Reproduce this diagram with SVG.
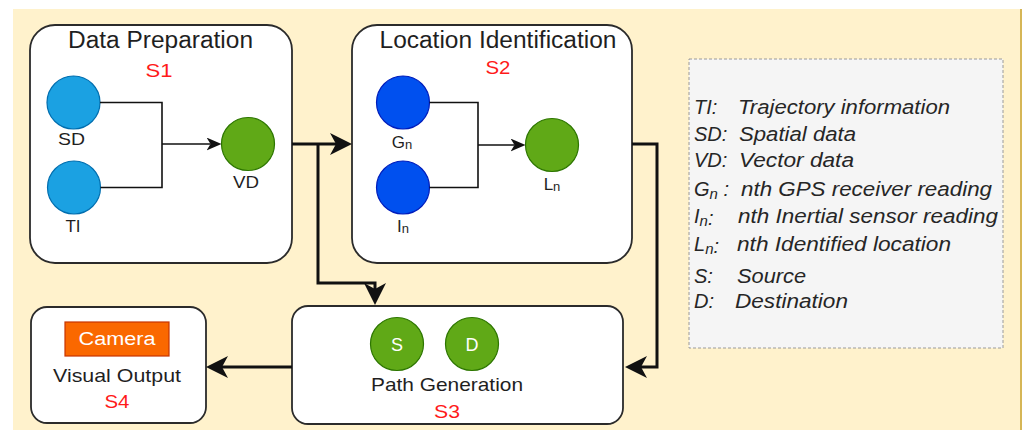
<svg xmlns="http://www.w3.org/2000/svg" width="1024" height="430" viewBox="0 0 1024 430">
<defs>
<style>
.box{fill:#ffffff;stroke:#2b2b2b;stroke-width:1.8}
.t{font-family:"Liberation Sans",Arial,sans-serif;fill:#1f1f1f}
.title{font-size:23px;text-anchor:middle}
.red{font-size:18px;fill:#ff1a1a;text-anchor:middle}
.lbl{font-size:17px;text-anchor:middle}
.cyan{fill:#1ba1e2;stroke:#006eaf;stroke-width:1.2}
.blue{fill:#0050ef;stroke:#001dbc;stroke-width:1.2}
.green{fill:#60a917;stroke:#2d7600;stroke-width:1.2}
.thin{fill:none;stroke:#111;stroke-width:1.6}
.thick{fill:none;stroke:#111;stroke-width:3}
.leg{font-size:20px;font-style:italic;fill:#262626}
</style>
<marker id="ahS" markerUnits="userSpaceOnUse" markerWidth="15" markerHeight="13" refX="4" refY="6.5" orient="auto" viewBox="0 0 15 13">
<path d="M0,0 L15,6.5 L0,13 L4,6.5 Z" fill="#111"/>
</marker>
<marker id="ahL" markerUnits="userSpaceOnUse" markerWidth="22" markerHeight="22" refX="6" refY="11" orient="auto" viewBox="0 0 22 22">
<path d="M0,0 L22,11 L0,22 L6,11 Z" fill="#111"/>
</marker>
</defs>
<rect x="0" y="0" width="1024" height="430" fill="#ffffff"/>
<rect x="13" y="9" width="1008" height="421" fill="#fff2cc"/>
<line x1="1021" y1="9" x2="1021" y2="430" stroke="#d6b656" stroke-width="2"/>

<g id="S1">
<rect class="box" x="30" y="25" width="262" height="238" rx="25"/>
<text class="t title" x="160.5" y="48" textLength="185" lengthAdjust="spacingAndGlyphs">Data Preparation</text>
<text class="t red" x="159" y="77" textLength="27" lengthAdjust="spacingAndGlyphs">S1</text>
</g>
<g id="SD"><circle class="cyan" cx="73.5" cy="102.5" r="26.5"/><text class="t lbl" x="71.5" y="145" textLength="27" lengthAdjust="spacingAndGlyphs">SD</text></g>
<g id="TI"><circle class="cyan" cx="74" cy="187.5" r="26.5"/><text class="t lbl" x="73" y="232">TI</text></g>
<g id="VD"><circle class="green" cx="248" cy="144" r="26.5"/><text class="t lbl" x="246" y="188" textLength="26" lengthAdjust="spacingAndGlyphs">VD</text></g>

<g id="S2">
<rect class="box" x="352" y="25" width="280" height="238" rx="25"/>
<text class="t title" x="498" y="48" textLength="237" lengthAdjust="spacingAndGlyphs">Location Identification</text>
<text class="t red" x="498" y="74" textLength="25" lengthAdjust="spacingAndGlyphs">S2</text>
</g>
<g id="Gn"><circle class="blue" cx="403" cy="102.5" r="26.5"/><text class="t lbl" x="402" y="148">G<tspan font-size="13" dy="1">n</tspan></text></g>
<g id="In"><circle class="blue" cx="403" cy="187.5" r="26.5"/><text class="t lbl" x="403" y="232">I<tspan font-size="13" dy="1">n</tspan></text></g>
<g id="Ln"><circle class="green" cx="552" cy="145" r="26.5"/><text class="t lbl" x="552" y="190">L<tspan font-size="13" dy="1">n</tspan></text></g>

<g id="S3">
<rect class="box" x="292" y="306" width="331" height="118" rx="16"/>
<text class="t lbl" x="447" y="391" font-size="19" textLength="152" lengthAdjust="spacingAndGlyphs" style="font-size:19px">Path Generation</text>
<text class="t red" x="447" y="418" textLength="26" lengthAdjust="spacingAndGlyphs">S3</text>
</g>
<g id="S"><circle class="green" cx="397" cy="344" r="26.5"/><text class="t lbl" x="397" y="351" style="fill:#ffffff;font-size:18px">S</text></g>
<g id="D"><circle class="green" cx="472" cy="344" r="26.5"/><text class="t lbl" x="472" y="351" style="fill:#ffffff;font-size:18px">D</text></g>

<g id="S4">
<rect class="box" x="31" y="307" width="175" height="116" rx="16"/>
<text class="t lbl" x="117" y="382" style="font-size:19px" textLength="128" lengthAdjust="spacingAndGlyphs">Visual Output</text>
<text class="t red" x="117" y="408" textLength="25" lengthAdjust="spacingAndGlyphs">S4</text>
</g>
<g id="Camera">
<rect x="65" y="322" width="104" height="34" fill="#fa6800" stroke="#c73500" stroke-width="1.2"/>
<text class="t lbl" x="117" y="345" style="fill:#ffffff;font-size:18px" textLength="77" lengthAdjust="spacingAndGlyphs">Camera</text>
</g>

<g id="legend">
<rect x="689" y="59" width="314" height="289" fill="#f5f5f5" stroke="#9a9a9a" stroke-width="1" stroke-dasharray="3,2"/>
<text class="t leg" x="694" y="114">TI:</text>
<text class="t leg" x="738" y="114" textLength="212" lengthAdjust="spacingAndGlyphs">Trajectory information</text>
<text class="t leg" x="694" y="141">SD:</text>
<text class="t leg" x="739" y="141" textLength="117" lengthAdjust="spacingAndGlyphs">Spatial data</text>
<text class="t leg" x="694" y="167">VD:</text>
<text class="t leg" x="739" y="167" textLength="115" lengthAdjust="spacingAndGlyphs">Vector data</text>
<text class="t leg" x="694" y="196">G<tspan font-size="15" dy="3">n</tspan><tspan dy="-3"> :</tspan></text>
<text class="t leg" x="741" y="196" textLength="251" lengthAdjust="spacingAndGlyphs">nth GPS receiver reading</text>
<text class="t leg" x="694" y="223">I<tspan font-size="15" dy="3">n</tspan><tspan dy="-1">:</tspan></text>
<text class="t leg" x="738" y="223" textLength="260" lengthAdjust="spacingAndGlyphs">nth Inertial sensor reading</text>
<text class="t leg" x="694" y="251">L<tspan font-size="15" dy="3">n</tspan><tspan dy="-1">:</tspan></text>
<text class="t leg" x="737" y="251" textLength="214" lengthAdjust="spacingAndGlyphs">nth Identified location</text>
<text class="t leg" x="694" y="283">S:</text>
<text class="t leg" x="737" y="283" textLength="69" lengthAdjust="spacingAndGlyphs">Source</text>
<text class="t leg" x="694" y="308">D:</text>
<text class="t leg" x="735" y="308" textLength="113" lengthAdjust="spacingAndGlyphs">Destination</text>
</g>

<g id="connectors">
<polyline class="thin" points="100,102.5 162,102.5 162,187.5 100.5,187.5"/>
<line class="thin" x1="162" y1="144" x2="210.5" y2="144" marker-end="url(#ahS)"/>
<polyline class="thin" points="429.5,102.5 478,102.5 478,187.5 429.5,187.5"/>
<line class="thin" x1="478" y1="145" x2="514.5" y2="145" marker-end="url(#ahS)"/>
<line class="thick" x1="292" y1="144" x2="336" y2="144" marker-end="url(#ahL)"/>
<polyline class="thick" points="318,144 318,283 375,283 375,289" marker-end="url(#ahL)"/>
<polyline class="thick" points="632,144 657,144 657,367 641,367" marker-end="url(#ahL)"/>
<line class="thick" x1="292" y1="367" x2="222" y2="367" marker-end="url(#ahL)"/>
</g>
</svg>
